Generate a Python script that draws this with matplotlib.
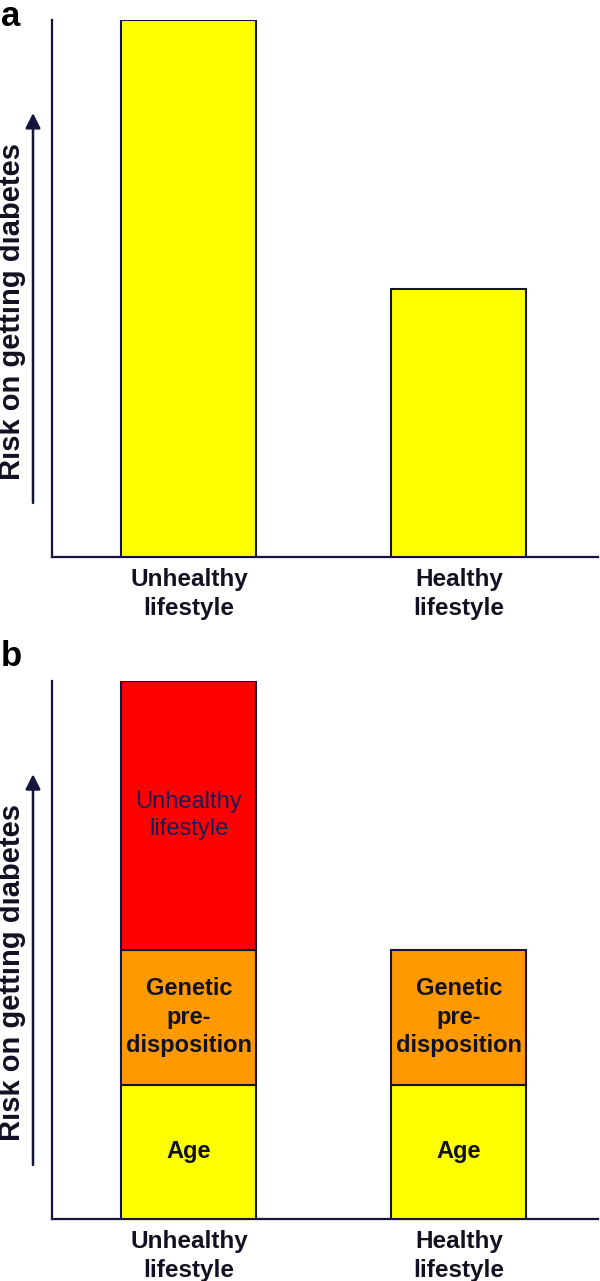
import matplotlib
matplotlib.use("Agg")
import matplotlib.pyplot as plt

plt.rcParams['font.family'] = ['Liberation Sans', 'DejaVu Sans']

categories = ["Unhealthy\nlifestyle", "Healthy\nlifestyle"]
risk_a = [4, 2]
age = [1, 1]
genetic = [1, 1]
lifestyle = [2, 0]
segment_labels = ["Age", "Genetic\npre-\ndisposition", "Unhealthy\nlifestyle"]
ylabel = "Risk on getting diabetes"

NAVY = "#14143c"
YELLOW = "#ffff00"
ORANGE = "#ff9900"
RED = "#ff0000"

fig = plt.figure(figsize=(6.0, 12.81), dpi=100)

W, H = 600, 1281
def axes_rect(top_px, bottom_px, left_px=52, right_px=598):
    return [left_px / W, 1 - bottom_px / H, (right_px - left_px) / W, (bottom_px - top_px) / H]

ax_a = fig.add_axes(axes_rect(20, 557))
ax_b = fig.add_axes(axes_rect(681, 1219))

x = list(range(len(categories)))
bw = 0.5

def style(ax):
    ax.set_xlim(-0.507, 1.515)
    ax.set_ylim(0, 4)
    for s in ["top", "right"]:
        ax.spines[s].set_visible(False)
    for s in ["left", "bottom"]:
        ax.spines[s].set_color(NAVY)
        ax.spines[s].set_linewidth(1.6)
    ax.set_yticks([])
    ax.set_xticks(x)
    ax.set_xticklabels(categories, fontsize=17.5, fontweight="bold", color="#111122",
                       linespacing=1.3)
    ax.tick_params(axis="x", length=0, pad=8)
    # arrow beside the y axis
    ax.annotate("", xy=(-0.0348, 0.8268), xytext=(-0.0348, 0.1006),
                xycoords="axes fraction", textcoords="axes fraction",
                arrowprops=dict(arrowstyle="-|>,head_length=0.9,head_width=0.45",
                                color=NAVY, lw=1.8, shrinkA=0, shrinkB=0),
                annotation_clip=False)
    ax.text(-0.073, 0.458, ylabel, transform=ax.transAxes, rotation=90,
            ha="center", va="center", fontsize=21, fontweight="bold", color="#111122")

# Panel a
ax_a.bar(x, risk_a, width=bw, color=YELLOW, edgecolor=NAVY, linewidth=1.5, zorder=3)
style(ax_a)

# Panel b
ax_b.bar(x, age, width=bw, color=YELLOW, edgecolor=NAVY, linewidth=1.5, zorder=3)
bottom2 = [a for a in age]
ax_b.bar(x, genetic, width=bw, bottom=bottom2, color=ORANGE, edgecolor=NAVY, linewidth=1.5, zorder=3)
bottom3 = [a + g for a, g in zip(age, genetic)]
ax_b.bar(x[:1], lifestyle[:1], width=bw, bottom=bottom3[:1], color=RED, edgecolor=NAVY,
         linewidth=1.5, zorder=3)
style(ax_b)

for i in x:
    ax_b.text(i, age[i] / 2, segment_labels[0], ha="center", va="center",
              fontsize=17, fontweight="bold", color="#111122", zorder=4)
    ax_b.text(i, age[i] + genetic[i] / 2, segment_labels[1], ha="center", va="center",
              fontsize=17, fontweight="bold", color="#111122", linespacing=1.3, zorder=4)
    if lifestyle[i] > 0:
        ax_b.text(i, age[i] + genetic[i] + lifestyle[i] / 2, segment_labels[2],
                  ha="center", va="center", fontsize=17, color="#1a1a55",
                  linespacing=1.3, zorder=4)

fig.text(1 / W, 1 - 0 / H, "a", ha="left", va="top", fontsize=25, fontweight="bold", color="black")
fig.text(1 / W, 1 - 640 / H, "b", ha="left", va="top", fontsize=25, fontweight="bold", color="black")

fig.savefig("out.png", dpi=100)
